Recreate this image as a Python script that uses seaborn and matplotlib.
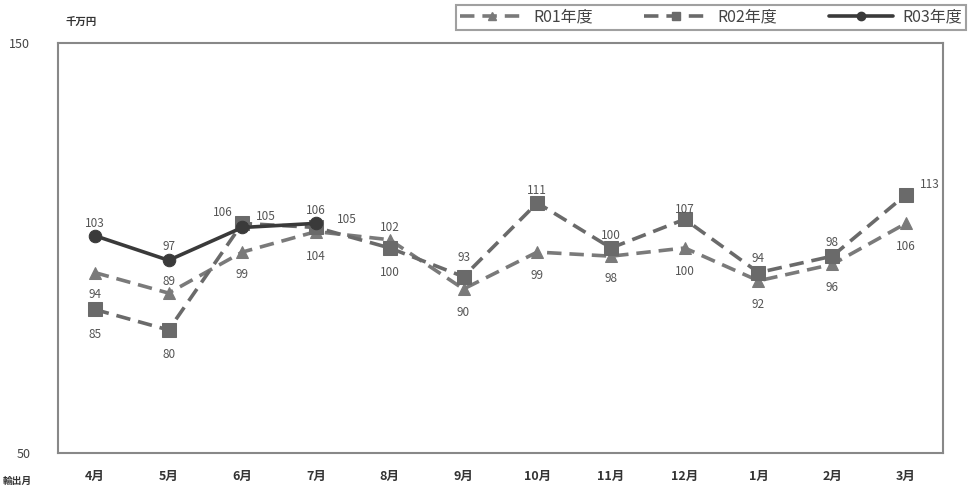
import matplotlib
matplotlib.use("Agg")
import matplotlib.pyplot as plt
import seaborn as sns
import pandas as pd
from matplotlib.lines import Line2D

sns.set_style("white")
plt.rcParams['font.family'] = ['Noto Sans CJK JP', 'DejaVu Sans']

months = ["4月", "5月", "6月", "7月", "8月", "9月", "10月", "11月", "12月", "1月", "2月", "3月"]
r01 = [94, 89, 99, 104, 102, 90, 99, 98, 100, 92, 96, 106]
r02 = [85, 80, 106, 105, 100, 93, 111, 100, 107, 94, 98, 113]
r03 = [103, 97, 105, 106]
series_names = ["R01年度", "R02年度", "R03年度"]
unit_label = "千万円"
x_label = "輸出月"

# label offsets (points) for annotation placement
off01 = [(0, -16), (0, 8), (0, -16), (0, -18), (0, 9), (0, -17), (0, -17), (0, -16), (0, -17), (0, -17), (0, -17), (0, -17)]
off02 = [(0, -18), (0, -18), (-14, 8), (22, 6), (0, -18), (0, 14), (0, 9), (0, 9), (0, 7), (0, 10), (0, 10), (17, 7)]
off03 = [(0, 9), (0, 10), (17, 8), (0, 9)]

fig = plt.figure(figsize=(9.71, 4.88), dpi=100)
ax = fig.add_axes([0.0597, 0.0717, 0.9113, 0.8403])

c01, c02, c03 = "#7a7a7a", "#6a6a6a", "#3a3a3a"
df01 = pd.DataFrame({"x": range(len(r01)), "y": r01})
df02 = pd.DataFrame({"x": range(len(r02)), "y": r02})
df03 = pd.DataFrame({"x": range(len(r03)), "y": r03})

sns.lineplot(data=df01, x="x", y="y", ax=ax, color=c01, lw=2.6, linestyle=(0, (4, 2.2)),
             marker="^", markersize=9, markeredgecolor=c01, markerfacecolor=c01)
sns.lineplot(data=df02, x="x", y="y", ax=ax, color=c02, lw=2.6, linestyle=(0, (4, 2.2)),
             marker="s", markersize=9.5, markeredgecolor=c02, markerfacecolor=c02)
sns.lineplot(data=df03, x="x", y="y", ax=ax, color=c03, lw=2.6, linestyle="-",
             marker="o", markersize=9, markeredgecolor=c03, markerfacecolor=c03)

for vals, offs in ((r01, off01), (r02, off02), (r03, off03)):
    for i, (v, o) in enumerate(zip(vals, offs)):
        ax.annotate(str(v), (i, v), xytext=o, textcoords="offset points",
                    ha="center", va="center", fontsize=8.5, color="#555555")

ax.set_xlim(-0.5, len(months) - 0.5)
ax.set_ylim(50, 150)
ax.set_yticks([50, 150])
ax.set_yticklabels(["50", "150"], fontsize=9, color="#444444")
ax.tick_params(axis="y", length=0, pad=20)
ax.set_xticks(range(len(months)))
ax.set_xticklabels(months, fontsize=9, color="#333333", fontweight="bold")
ax.tick_params(axis="x", which="major", length=0, pad=12)
ax.set_xticks([i + 0.5 for i in range(len(months) - 1)], minor=True)
ax.tick_params(axis="x", which="minor", direction="in", length=4, color="#777777")
ax.set_xlabel("")
ax.set_ylabel("")
for s in ax.spines.values():
    s.set_visible(True)
    s.set_color("#888888")
    s.set_linewidth(1.5)

fig.text(0.067, 0.955, unit_label, fontsize=7.5, color="#333333", ha="left", va="center", fontweight="bold")
fig.text(0.003, 0.005, x_label, fontsize=7, color="#333333", ha="left", va="bottom", fontweight="bold")

handles = [
    Line2D([], [], color=c01, lw=2.6, linestyle=(0, (4, 2.2)), marker="^", markersize=6),
    Line2D([], [], color=c02, lw=2.6, linestyle=(0, (4, 2.2)), marker="s", markersize=6),
    Line2D([], [], color=c03, lw=2.6, linestyle="-", marker="o", markersize=6),
]
leg = fig.legend(handles, series_names, loc="upper right", bbox_to_anchor=(0.998, 0.997), ncol=3,
                 frameon=True, fancybox=False, edgecolor="#888888", fontsize=11.5,
                 handlelength=4.0, columnspacing=3.2, borderpad=0.25, handletextpad=0.6,
                 borderaxespad=0.2)
leg.get_frame().set_linewidth(1.5)
for t in leg.get_texts():
    t.set_color("#444444")

fig.savefig("out.png", dpi=100)
